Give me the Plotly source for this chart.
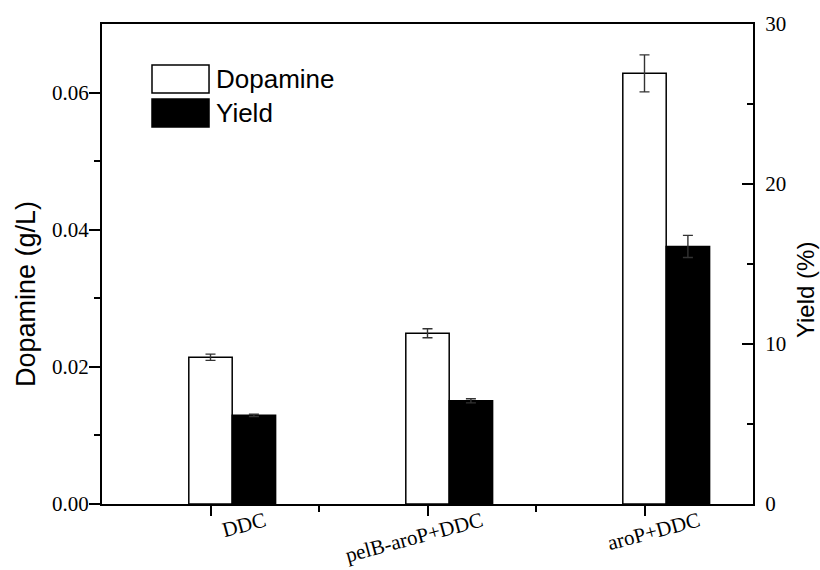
import plotly.graph_objects as go
import numpy as np

# ---- data ----
categories = ["DDC", "pelB-aroP+DDC", "aroP+DDC"]
dopamine = [0.0214, 0.0249, 0.0628]          # g/L
dopamine_err = [0.00045, 0.00066, 0.0027]
yield_pct = [5.54, 6.45, 16.1]               # %
yield_err = [0.07, 0.13, 0.69]

y_ticks = [0.00, 0.02, 0.04, 0.06]
y_minor = [0.01, 0.03, 0.05]
y2_ticks = [0, 10, 20, 30]
y2_minor = [5, 15, 25]

xpos = np.arange(1, len(categories) + 1)
xminor = list(xpos[:-1] + 0.5)

SERIF = "Liberation Serif, Times New Roman, serif"
SANS = "Liberation Sans, Arial, sans-serif"

fig = go.Figure()
fig.add_trace(go.Bar(
    x=xpos, y=dopamine, name="Dopamine", width=0.2, offset=-0.1,
    marker=dict(color="white", line=dict(color="black", width=1.5)),
    error_y=dict(type="data", array=dopamine_err, color="#333", thickness=1.4, width=5),
    yaxis="y", showlegend=False))
fig.add_trace(go.Bar(
    x=xpos, y=yield_pct, name="Yield", width=0.2, offset=0.1,
    marker=dict(color="black", line=dict(color="black", width=1.5)),
    error_y=dict(type="data", array=yield_err, color="#333", thickness=1.4, width=5),
    yaxis="y2", showlegend=False))

fig.update_layout(
    width=820, height=570,
    margin=dict(l=102, r=67, t=24, b=66),
    paper_bgcolor="white", plot_bgcolor="white",
    barmode="overlay",
    xaxis=dict(range=[0.5, 3.5], tickmode="array", tickvals=list(xpos), ticktext=categories,
               tickangle=-15, ticks="outside", ticklen=10, tickwidth=1.5, tickcolor="black",
               ticklabelshift=54, ticklabelstandoff=-15, automargin=False,
               minor=dict(tickmode="array", tickvals=xminor, ticks="outside", ticklen=6,
                          tickwidth=1.5, tickcolor="black"),
               showline=True, linecolor="black", linewidth=2, mirror=True,
               showgrid=False, zeroline=False,
               tickfont=dict(family=SERIF, size=21, color="black")),
    yaxis=dict(range=[0, 0.07], tickmode="array", tickvals=y_ticks,
               ticktext=[f"{v:.2f}" for v in y_ticks], automargin=False,
               ticks="outside", ticklen=11, tickwidth=1.5, tickcolor="black",
               ticklabelstandoff=-4,
               minor=dict(tickmode="array", tickvals=y_minor, ticks="outside", ticklen=6,
                          tickwidth=1.5, tickcolor="black"),
               showline=True, linecolor="black", linewidth=2,
               showgrid=False, zeroline=False,
               tickfont=dict(family=SERIF, size=21, color="black")),
    yaxis2=dict(range=[0, 30], overlaying="y", side="right", tickmode="array",
                tickvals=y2_ticks, ticks="inside", ticklen=11, tickwidth=1.5, tickcolor="black",
                minor=dict(tickmode="array", tickvals=y2_minor, ticks="inside", ticklen=6,
                           tickwidth=1.5, tickcolor="black"),
                ticklabelstandoff=6, automargin=False,
                showline=True, linecolor="black", linewidth=2,
                showgrid=False, zeroline=False,
                tickfont=dict(family=SERIF, size=21, color="black")),
)

# axis titles
fig.add_annotation(text="Dopamine (g/L)", xref="paper", yref="paper", x=-0.1167, y=0.4375,
                   xanchor="center", yanchor="middle",
                   textangle=-90, showarrow=False, font=dict(family=SANS, size=27, color="black"))
fig.add_annotation(text="Yield (%)", xref="paper", yref="paper", x=1.0800, y=0.4458,
                   xanchor="center", yanchor="middle",
                   textangle=-90, showarrow=False, font=dict(family=SANS, size=24, color="black"))

# legend (drawn manually to match the large swatches)
legend_items = [("Dopamine", "white", 0.9146, 0.8563), ("Yield", "black", 0.84375, 0.7854)]
for label, color, ytop, ybot in legend_items:
    fig.add_shape(type="rect", xref="paper", yref="paper", x0=0.0768, x1=0.1644,
                  y0=ybot, y1=ytop, fillcolor=color, line=dict(color="black", width=1.5))
    fig.add_annotation(text=label, xref="paper", yref="paper", x=0.1720, y=(ytop + ybot) / 2,
                       xanchor="left", yanchor="middle", showarrow=False,
                       font=dict(family=SANS, size=26, color="black"))

fig.write_html("out.html")
